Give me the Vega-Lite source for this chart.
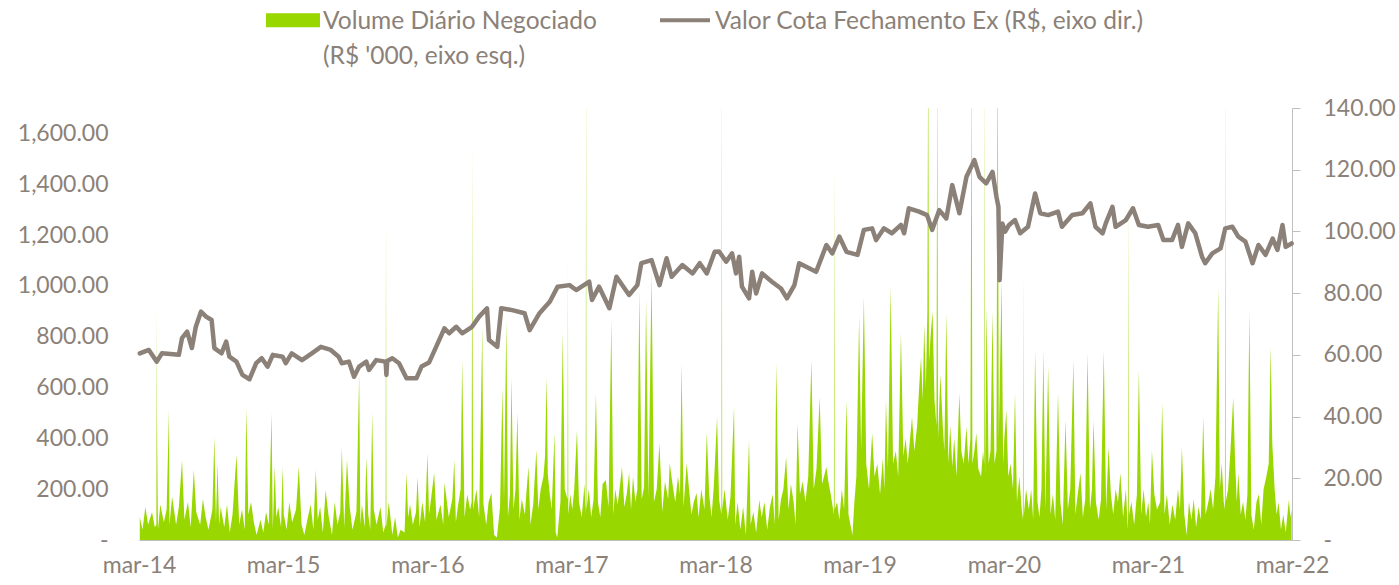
{
  "$schema": "https://vega.github.io/schema/vega-lite/v6.json",
  "width": 1153,
  "height": 432,
  "autosize": {"type": "none"},
  "padding": {"left": 139, "top": 108, "right": 107, "bottom": 45},
  "background": "white",
  "config": {"view": {"stroke": null}, "font": "Lato", "axis": {"labelFont": "Lato", "labelColor": "#8B8178", "labelFontSize": 23, "grid": false}},
  "datasets": {
    "vol": [
{"d":"2014-03-03","v":90},{"d":"2014-03-10","v":40},{"d":"2014-03-17","v":130},{"d":"2014-03-24","v":60},
{"d":"2014-04-03","v":110},{"d":"2014-04-10","v":50},{"d":"2014-04-14","v":60},{"d":"2014-04-15","v":920},{"d":"2014-04-16","v":80},{"d":"2014-04-17","v":485},{"d":"2014-04-18","v":40},{"d":"2014-04-24","v":140},
{"d":"2014-05-03","v":70},{"d":"2014-05-10","v":120},{"d":"2014-05-16","v":512},{"d":"2014-05-17","v":60},{"d":"2014-05-24","v":170},
{"d":"2014-06-03","v":60},{"d":"2014-06-10","v":130},{"d":"2014-06-18","v":315},{"d":"2014-06-24","v":80},
{"d":"2014-07-03","v":150},{"d":"2014-07-10","v":50},{"d":"2014-07-18","v":275},{"d":"2014-07-24","v":110},
{"d":"2014-08-03","v":60},{"d":"2014-08-10","v":160},{"d":"2014-08-17","v":90},{"d":"2014-08-24","v":40},
{"d":"2014-09-03","v":120},{"d":"2014-09-08","v":405},{"d":"2014-09-12","v":70},{"d":"2014-09-16","v":303},{"d":"2014-09-20","v":60},{"d":"2014-09-24","v":130},
{"d":"2014-10-03","v":50},{"d":"2014-10-10","v":140},{"d":"2014-10-17","v":30},{"d":"2014-10-24","v":100},
{"d":"2014-11-03","v":335},{"d":"2014-11-10","v":60},{"d":"2014-11-17","v":120},{"d":"2014-11-24","v":40},{"d":"2014-11-28","v":520},
{"d":"2014-12-03","v":100},{"d":"2014-12-10","v":150},{"d":"2014-12-17","v":70},{"d":"2014-12-24","v":20},
{"d":"2015-01-03","v":80},{"d":"2015-01-10","v":30},{"d":"2015-01-17","v":110},{"d":"2015-01-24","v":60},{"d":"2015-01-31","v":500},
{"d":"2015-02-03","v":40},{"d":"2015-02-08","v":288},{"d":"2015-02-12","v":90},{"d":"2015-02-17","v":130},{"d":"2015-02-24","v":50},{"d":"2015-02-28","v":288},
{"d":"2015-03-03","v":100},{"d":"2015-03-10","v":40},{"d":"2015-03-17","v":150},{"d":"2015-03-24","v":70},
{"d":"2015-04-03","v":120},{"d":"2015-04-10","v":288},{"d":"2015-04-17","v":60},{"d":"2015-04-24","v":20},
{"d":"2015-05-03","v":90},{"d":"2015-05-10","v":140},{"d":"2015-05-17","v":40},{"d":"2015-05-23","v":275},{"d":"2015-05-28","v":80},
{"d":"2015-06-03","v":130},{"d":"2015-06-10","v":30},{"d":"2015-06-17","v":197},{"d":"2015-06-24","v":100},
{"d":"2015-07-03","v":20},{"d":"2015-07-10","v":150},{"d":"2015-07-17","v":60},{"d":"2015-07-24","v":110},{"d":"2015-07-28","v":366},
{"d":"2015-08-03","v":50},{"d":"2015-08-10","v":315},{"d":"2015-08-17","v":130},{"d":"2015-08-24","v":40},
{"d":"2015-09-03","v":110},{"d":"2015-09-10","v":657},{"d":"2015-09-13","v":60},{"d":"2015-09-17","v":140},{"d":"2015-09-24","v":50},{"d":"2015-09-28","v":327},
{"d":"2015-10-03","v":100},{"d":"2015-10-08","v":40},{"d":"2015-10-13","v":500},{"d":"2015-10-17","v":120},{"d":"2015-10-24","v":60},
{"d":"2015-11-03","v":130},{"d":"2015-11-10","v":30},{"d":"2015-11-16","v":60},{"d":"2015-11-17","v":1272},{"d":"2015-11-18","v":50},{"d":"2015-11-24","v":150},
{"d":"2015-12-03","v":20},{"d":"2015-12-10","v":90},{"d":"2015-12-17","v":10},{"d":"2015-12-24","v":40},
{"d":"2016-01-03","v":30},{"d":"2016-01-08","v":264},{"d":"2016-01-12","v":90},{"d":"2016-01-17","v":140},{"d":"2016-01-24","v":60},
{"d":"2016-02-01","v":110},{"d":"2016-02-05","v":248},{"d":"2016-02-10","v":50},{"d":"2016-02-17","v":150},{"d":"2016-02-24","v":70},
{"d":"2016-03-01","v":342},{"d":"2016-03-05","v":100},{"d":"2016-03-10","v":160},{"d":"2016-03-18","v":264},{"d":"2016-03-24","v":80},
{"d":"2016-04-03","v":140},{"d":"2016-04-10","v":60},{"d":"2016-04-13","v":224},{"d":"2016-04-17","v":180},{"d":"2016-04-24","v":90},
{"d":"2016-05-03","v":160},{"d":"2016-05-08","v":315},{"d":"2016-05-12","v":70},{"d":"2016-05-17","v":130},{"d":"2016-05-24","v":200},{"d":"2016-05-28","v":708},
{"d":"2016-06-03","v":90},{"d":"2016-06-10","v":180},{"d":"2016-06-17","v":120},{"d":"2016-06-21","v":150},{"d":"2016-06-22","v":1043},{"d":"2016-06-23","v":300},{"d":"2016-06-24","v":1574},{"d":"2016-06-25","v":120},
{"d":"2016-07-03","v":200},{"d":"2016-07-10","v":90},{"d":"2016-07-18","v":838},{"d":"2016-07-21","v":140},{"d":"2016-07-28","v":60},
{"d":"2016-08-03","v":150},{"d":"2016-08-10","v":185},{"d":"2016-08-17","v":20},{"d":"2016-08-24","v":10},
{"d":"2016-09-01","v":130},{"d":"2016-09-07","v":602},{"d":"2016-09-11","v":150},{"d":"2016-09-17","v":866},{"d":"2016-09-21","v":90},{"d":"2016-09-26","v":180},{"d":"2016-09-30","v":642},
{"d":"2016-10-05","v":120},{"d":"2016-10-10","v":200},{"d":"2016-10-15","v":500},{"d":"2016-10-20","v":80},{"d":"2016-10-26","v":160},
{"d":"2016-11-03","v":100},{"d":"2016-11-07","v":190},{"d":"2016-11-12","v":288},{"d":"2016-11-17","v":60},{"d":"2016-11-24","v":140},
{"d":"2016-12-02","v":354},{"d":"2016-12-07","v":120},{"d":"2016-12-13","v":200},{"d":"2016-12-20","v":250},{"d":"2016-12-24","v":330},{"d":"2016-12-28","v":642},{"d":"2016-12-31","v":260},
{"d":"2017-01-05","v":180},{"d":"2017-01-10","v":120},{"d":"2017-01-17","v":421},{"d":"2017-01-20","v":30},{"d":"2017-01-24","v":10},
{"d":"2017-02-01","v":150},{"d":"2017-02-07","v":815},{"d":"2017-02-12","v":200},{"d":"2017-02-19","v":160},{"d":"2017-02-20","v":1102},{"d":"2017-02-21","v":100},{"d":"2017-02-26","v":180},
{"d":"2017-03-03","v":120},{"d":"2017-03-08","v":200},{"d":"2017-03-15","v":433},{"d":"2017-03-20","v":150},{"d":"2017-03-27","v":90},
{"d":"2017-04-03","v":220},{"d":"2017-04-06","v":100},{"d":"2017-04-07","v":1900},{"d":"2017-04-08","v":120},{"d":"2017-04-14","v":200},{"d":"2017-04-20","v":90},{"d":"2017-04-26","v":160},
{"d":"2017-05-02","v":578},{"d":"2017-05-07","v":150},{"d":"2017-05-13","v":90},{"d":"2017-05-19","v":220},{"d":"2017-05-27","v":236},
{"d":"2017-06-03","v":130},{"d":"2017-06-10","v":866},{"d":"2017-06-15","v":100},{"d":"2017-06-20","v":200},{"d":"2017-06-26","v":140},
{"d":"2017-07-03","v":230},{"d":"2017-07-07","v":288},{"d":"2017-07-13","v":130},{"d":"2017-07-19","v":180},{"d":"2017-07-25","v":264},{"d":"2017-07-30","v":120},
{"d":"2017-08-04","v":250},{"d":"2017-08-10","v":150},{"d":"2017-08-15","v":200},{"d":"2017-08-20","v":984},{"d":"2017-08-26","v":160},
{"d":"2017-09-01","v":210},{"d":"2017-09-06","v":944},{"d":"2017-09-12","v":170},{"d":"2017-09-20","v":1050},{"d":"2017-09-26","v":150},
{"d":"2017-10-03","v":200},{"d":"2017-10-10","v":382},{"d":"2017-10-17","v":110},{"d":"2017-10-24","v":230},
{"d":"2017-11-01","v":160},{"d":"2017-11-05","v":303},{"d":"2017-11-12","v":220},{"d":"2017-11-19","v":150},{"d":"2017-11-26","v":250},
{"d":"2017-12-01","v":180},{"d":"2017-12-05","v":697},{"d":"2017-12-10","v":130},{"d":"2017-12-18","v":303},{"d":"2017-12-24","v":200},{"d":"2017-12-30","v":100},
{"d":"2018-01-05","v":150},{"d":"2018-01-12","v":185},{"d":"2018-01-17","v":90},{"d":"2018-01-24","v":200},
{"d":"2018-02-01","v":120},{"d":"2018-02-07","v":421},{"d":"2018-02-13","v":180},{"d":"2018-02-19","v":90},{"d":"2018-02-25","v":220},
{"d":"2018-03-05","v":484},{"d":"2018-03-10","v":160},{"d":"2018-03-16","v":100},{"d":"2018-03-17","v":1900},{"d":"2018-03-18","v":120},{"d":"2018-03-24","v":200},
{"d":"2018-04-01","v":80},{"d":"2018-04-08","v":170},{"d":"2018-04-17","v":524},{"d":"2018-04-20","v":60},{"d":"2018-04-26","v":150},
{"d":"2018-05-03","v":40},{"d":"2018-05-10","v":130},{"d":"2018-05-17","v":20},{"d":"2018-05-25","v":394},{"d":"2018-05-29","v":60},
{"d":"2018-06-05","v":110},{"d":"2018-06-12","v":30},{"d":"2018-06-20","v":157},{"d":"2018-06-26","v":90},
{"d":"2018-07-03","v":150},{"d":"2018-07-10","v":40},{"d":"2018-07-17","v":130},{"d":"2018-07-24","v":180},{"d":"2018-07-29","v":60},
{"d":"2018-08-02","v":697},{"d":"2018-08-08","v":80},{"d":"2018-08-14","v":160},{"d":"2018-08-20","v":200},{"d":"2018-08-27","v":327},
{"d":"2018-09-02","v":120},{"d":"2018-09-08","v":220},{"d":"2018-09-15","v":150},{"d":"2018-09-20","v":60},{"d":"2018-09-25","v":460},
{"d":"2018-10-01","v":180},{"d":"2018-10-08","v":230},{"d":"2018-10-15","v":150},{"d":"2018-10-22","v":250},{"d":"2018-10-30","v":708},
{"d":"2018-11-05","v":200},{"d":"2018-11-12","v":280},{"d":"2018-11-20","v":563},{"d":"2018-11-26","v":220},
{"d":"2018-12-01","v":250},{"d":"2018-12-07","v":288},{"d":"2018-12-12","v":230},{"d":"2018-12-18","v":180},{"d":"2018-12-26","v":100},{"d":"2018-12-27","v":1495},{"d":"2018-12-28","v":120},
{"d":"2019-01-03","v":150},{"d":"2019-01-09","v":80},{"d":"2019-01-15","v":200},{"d":"2019-01-21","v":120},{"d":"2019-01-27","v":551},
{"d":"2019-02-01","v":100},{"d":"2019-02-06","v":60},{"d":"2019-02-11","v":20},{"d":"2019-02-16","v":150},{"d":"2019-02-21","v":250},{"d":"2019-02-28","v":878},
{"d":"2019-03-05","v":350},{"d":"2019-03-12","v":956},{"d":"2019-03-14","v":755},{"d":"2019-03-18","v":300},{"d":"2019-03-25","v":200},
{"d":"2019-04-02","v":421},{"d":"2019-04-08","v":250},{"d":"2019-04-15","v":300},{"d":"2019-04-22","v":180},{"d":"2019-04-29","v":320},
{"d":"2019-05-03","v":200},{"d":"2019-05-07","v":551},{"d":"2019-05-12","v":280},{"d":"2019-05-19","v":996},{"d":"2019-05-25","v":300},
{"d":"2019-06-01","v":350},{"d":"2019-06-07","v":250},{"d":"2019-06-14","v":815},{"d":"2019-06-20","v":330},{"d":"2019-06-26","v":400},
{"d":"2019-07-01","v":300},{"d":"2019-07-06","v":380},{"d":"2019-07-12","v":484},{"d":"2019-07-18","v":350},{"d":"2019-07-25","v":450},{"d":"2019-07-30","v":600},
{"d":"2019-08-04","v":720},{"d":"2019-08-08","v":550},{"d":"2019-08-12","v":850},{"d":"2019-08-16","v":600},{"d":"2019-08-20","v":900},{"d":"2019-08-22","v":2000},{"d":"2019-08-24","v":700},{"d":"2019-08-28","v":800},
{"d":"2019-09-02","v":900},{"d":"2019-09-07","v":550},{"d":"2019-09-12","v":450},{"d":"2019-09-14","v":1900},{"d":"2019-09-16","v":400},{"d":"2019-09-22","v":650},{"d":"2019-09-28","v":450},
{"d":"2019-10-02","v":350},{"d":"2019-10-07","v":893},{"d":"2019-10-12","v":300},{"d":"2019-10-17","v":450},{"d":"2019-10-22","v":288},{"d":"2019-10-27","v":400},
{"d":"2019-11-02","v":250},{"d":"2019-11-09","v":578},{"d":"2019-11-14","v":350},{"d":"2019-11-20","v":300},{"d":"2019-11-27","v":445},
{"d":"2019-12-02","v":300},{"d":"2019-12-07","v":400},{"d":"2019-12-10","v":1900},{"d":"2019-12-12","v":300},{"d":"2019-12-17","v":350},{"d":"2019-12-22","v":421},{"d":"2019-12-27","v":280},
{"d":"2020-01-03","v":250},{"d":"2020-01-08","v":350},{"d":"2020-01-11","v":300},{"d":"2020-01-12","v":1900},{"d":"2020-01-13","v":250},{"d":"2020-01-17","v":917},{"d":"2020-01-22","v":300},{"d":"2020-01-27","v":350},
{"d":"2020-02-01","v":900},{"d":"2020-02-06","v":300},{"d":"2020-02-11","v":350},{"d":"2020-02-14","v":2000},{"d":"2020-02-17","v":400},{"d":"2020-02-24","v":1023},{"d":"2020-02-28","v":300},
{"d":"2020-03-02","v":400},{"d":"2020-03-07","v":512},{"d":"2020-03-12","v":250},{"d":"2020-03-18","v":300},{"d":"2020-03-24","v":200},{"d":"2020-03-29","v":578},
{"d":"2020-04-03","v":150},{"d":"2020-04-09","v":250},{"d":"2020-04-15","v":120},{"d":"2020-04-18","v":80},{"d":"2020-04-19","v":1062},{"d":"2020-04-20","v":90},{"d":"2020-04-26","v":200},
{"d":"2020-05-03","v":120},{"d":"2020-05-09","v":200},{"d":"2020-05-14","v":80},{"d":"2020-05-19","v":748},{"d":"2020-05-25","v":150},{"d":"2020-05-30","v":90},
{"d":"2020-06-04","v":200},{"d":"2020-06-09","v":748},{"d":"2020-06-14","v":120},{"d":"2020-06-21","v":682},{"d":"2020-06-27","v":100},
{"d":"2020-07-03","v":180},{"d":"2020-07-09","v":80},{"d":"2020-07-16","v":578},{"d":"2020-07-22","v":150},{"d":"2020-07-28","v":60},
{"d":"2020-08-04","v":472},{"d":"2020-08-10","v":120},{"d":"2020-08-16","v":200},{"d":"2020-08-24","v":708},{"d":"2020-08-29","v":100},
{"d":"2020-09-04","v":180},{"d":"2020-09-11","v":264},{"d":"2020-09-17","v":90},{"d":"2020-09-23","v":160},{"d":"2020-09-29","v":736},
{"d":"2020-10-05","v":120},{"d":"2020-10-10","v":200},{"d":"2020-10-14","v":472},{"d":"2020-10-20","v":150},{"d":"2020-10-27","v":80},
{"d":"2020-11-02","v":160},{"d":"2020-11-09","v":748},{"d":"2020-11-15","v":120},{"d":"2020-11-21","v":366},{"d":"2020-11-27","v":180},
{"d":"2020-12-03","v":100},{"d":"2020-12-09","v":200},{"d":"2020-12-15","v":150},{"d":"2020-12-21","v":264},{"d":"2020-12-28","v":90},
{"d":"2021-01-04","v":200},{"d":"2021-01-09","v":40},{"d":"2021-01-10","v":120},{"d":"2021-01-11","v":1365},{"d":"2021-01-12","v":100},{"d":"2021-01-18","v":150},{"d":"2021-01-25","v":60},
{"d":"2021-02-01","v":180},{"d":"2021-02-06","v":669},{"d":"2021-02-12","v":100},{"d":"2021-02-18","v":200},{"d":"2021-02-24","v":90},
{"d":"2021-03-02","v":150},{"d":"2021-03-06","v":60},{"d":"2021-03-11","v":354},{"d":"2021-03-17","v":180},{"d":"2021-03-24","v":120},
{"d":"2021-04-01","v":150},{"d":"2021-04-06","v":539},{"d":"2021-04-12","v":100},{"d":"2021-04-18","v":180},{"d":"2021-04-25","v":60},
{"d":"2021-05-02","v":140},{"d":"2021-05-09","v":80},{"d":"2021-05-16","v":200},{"d":"2021-05-21","v":120},{"d":"2021-05-26","v":366},
{"d":"2021-06-01","v":100},{"d":"2021-06-07","v":20},{"d":"2021-06-13","v":150},{"d":"2021-06-19","v":80},{"d":"2021-06-25","v":160},
{"d":"2021-07-01","v":50},{"d":"2021-07-07","v":130},{"d":"2021-07-13","v":80},{"d":"2021-07-19","v":484},{"d":"2021-07-25","v":100},
{"d":"2021-08-01","v":150},{"d":"2021-08-07","v":200},{"d":"2021-08-13","v":120},{"d":"2021-08-19","v":250},{"d":"2021-08-26","v":992},{"d":"2021-08-30","v":200},
{"d":"2021-09-04","v":300},{"d":"2021-09-09","v":150},{"d":"2021-09-12","v":120},{"d":"2021-09-13","v":1900},{"d":"2021-09-14","v":150},{"d":"2021-09-20","v":200},{"d":"2021-09-26","v":350},
{"d":"2021-10-03","v":563},{"d":"2021-10-08","v":300},{"d":"2021-10-12","v":150},{"d":"2021-10-16","v":264},{"d":"2021-10-22","v":100},{"d":"2021-10-28","v":150},
{"d":"2021-11-03","v":80},{"d":"2021-11-08","v":180},{"d":"2021-11-13","v":905},{"d":"2021-11-18","v":100},{"d":"2021-11-24","v":40},
{"d":"2021-12-01","v":150},{"d":"2021-12-07","v":180},{"d":"2021-12-13","v":60},{"d":"2021-12-19","v":200},{"d":"2021-12-26","v":250},
{"d":"2022-01-01","v":300},{"d":"2022-01-06","v":760},{"d":"2022-01-10","v":382},{"d":"2022-01-16","v":200},{"d":"2022-01-21","v":100},{"d":"2022-01-26","v":150},
{"d":"2022-02-01","v":40},{"d":"2022-02-07","v":100},{"d":"2022-02-13","v":30},{"d":"2022-02-21","v":157},{"d":"2022-02-25","v":90},{"d":"2022-02-28","v":120}
    ],
    "px": [
{"d":"2014-03-03","p":60.5},{"d":"2014-03-26","p":61.6},{"d":"2014-04-15","p":57.8},{"d":"2014-04-28","p":60.5},{"d":"2014-06-10","p":60},{"d":"2014-06-18","p":65.4},{"d":"2014-07-01","p":67.5},{"d":"2014-07-13","p":62.2},{"d":"2014-07-23","p":69.1},{"d":"2014-08-05","p":74},{"d":"2014-08-18","p":72.4},{"d":"2014-09-01","p":71.3},{"d":"2014-09-08","p":62.2},{"d":"2014-09-26","p":60.5},{"d":"2014-10-08","p":64.3},{"d":"2014-10-16","p":59.4},{"d":"2014-11-03","p":57.8},{"d":"2014-11-18","p":53.5},{"d":"2014-12-06","p":52.1},{"d":"2014-12-23","p":57.3},
{"d":"2015-01-06","p":58.9},{"d":"2015-01-21","p":56.2},{"d":"2015-02-03","p":60},{"d":"2015-02-28","p":59.4},{"d":"2015-03-08","p":57.3},{"d":"2015-03-23","p":60.5},{"d":"2015-04-18","p":58.3},{"d":"2015-05-13","p":60.5},{"d":"2015-06-05","p":62.6},{"d":"2015-06-30","p":61.6},{"d":"2015-07-20","p":59.4},{"d":"2015-07-28","p":57.3},{"d":"2015-08-15","p":57.8},{"d":"2015-08-28","p":52.9},{"d":"2015-09-10","p":56.2},{"d":"2015-09-28","p":57.8},{"d":"2015-10-05","p":55.1},{"d":"2015-10-23","p":58.3},{"d":"2015-11-16","p":57.8},{"d":"2015-11-18","p":53.5},{"d":"2015-11-20","p":58},{"d":"2015-12-03","p":58.9},{"d":"2015-12-20","p":57.3},
{"d":"2016-01-08","p":52.4},{"d":"2016-02-02","p":52.4},{"d":"2016-02-15","p":56.2},{"d":"2016-03-05","p":57.5},{"d":"2016-03-23","p":62.6},{"d":"2016-04-13","p":68.6},{"d":"2016-04-25","p":67},{"d":"2016-05-13","p":69.1},{"d":"2016-05-28","p":67},{"d":"2016-06-22","p":69.1},{"d":"2016-07-10","p":72.4},{"d":"2016-07-30","p":75.1},{"d":"2016-08-04","p":64.8},{"d":"2016-08-25","p":62.6},{"d":"2016-09-04","p":75.1},{"d":"2016-10-02","p":74.5},{"d":"2016-11-02","p":73.5},{"d":"2016-11-15","p":68},{"d":"2016-12-10","p":73.5},
{"d":"2017-01-05","p":77.2},{"d":"2017-01-25","p":82.1},{"d":"2017-02-24","p":82.6},{"d":"2017-03-13","p":81},{"d":"2017-04-15","p":83.7},{"d":"2017-04-22","p":77.8},{"d":"2017-05-10","p":82.1},{"d":"2017-06-05","p":75.1},{"d":"2017-06-23","p":85.3},{"d":"2017-07-25","p":79.4},{"d":"2017-08-15","p":82.6},{"d":"2017-08-25","p":89.7},{"d":"2017-09-20","p":90.7},{"d":"2017-10-10","p":82.6},{"d":"2017-10-28","p":91.3},{"d":"2017-11-10","p":85.3},{"d":"2017-12-07","p":89.1},
{"d":"2018-01-02","p":86.4},{"d":"2018-01-20","p":89.7},{"d":"2018-02-07","p":86.4},{"d":"2018-02-27","p":93.4},{"d":"2018-03-10","p":93.5},{"d":"2018-03-28","p":90.2},{"d":"2018-04-12","p":92.9},{"d":"2018-04-22","p":86.4},{"d":"2018-04-30","p":91.8},{"d":"2018-05-07","p":82.1},{"d":"2018-05-25","p":78.3},{"d":"2018-06-02","p":86.9},{"d":"2018-06-12","p":79.9},{"d":"2018-06-27","p":86.4},{"d":"2018-07-22","p":83.7},{"d":"2018-08-14","p":81.5},{"d":"2018-08-29","p":78.3},{"d":"2018-09-17","p":82.6},{"d":"2018-09-29","p":89.7},{"d":"2018-11-11","p":86.9},{"d":"2018-12-07","p":95.6},{"d":"2018-12-22","p":92.9},
{"d":"2019-01-09","p":98.3},{"d":"2019-01-27","p":93.4},{"d":"2019-02-24","p":92.4},{"d":"2019-03-12","p":100.5},{"d":"2019-04-02","p":101},{"d":"2019-04-12","p":97.2},{"d":"2019-05-02","p":101},{"d":"2019-05-22","p":99.4},{"d":"2019-06-14","p":102.1},{"d":"2019-06-22","p":99.4},{"d":"2019-07-04","p":107.5},{"d":"2019-07-30","p":106.4},{"d":"2019-08-19","p":105.3},{"d":"2019-09-01","p":100.5},{"d":"2019-09-19","p":106.9},{"d":"2019-10-07","p":104.2},{"d":"2019-10-22","p":115},{"d":"2019-11-09","p":105.9},{"d":"2019-11-27","p":117.7},{"d":"2019-12-17","p":123.1},{"d":"2019-12-30","p":117.7},
{"d":"2020-01-16","p":115.6},{"d":"2020-02-01","p":119.3},{"d":"2020-02-11","p":111.2},{"d":"2020-02-16","p":108},{"d":"2020-02-19","p":84.2},{"d":"2020-02-26","p":102.6},{"d":"2020-03-04","p":99.9},{"d":"2020-03-14","p":102.1},{"d":"2020-03-29","p":103.7},{"d":"2020-04-11","p":99.4},{"d":"2020-05-01","p":101.5},{"d":"2020-05-19","p":112.3},{"d":"2020-06-01","p":105.9},{"d":"2020-06-21","p":105.3},{"d":"2020-07-16","p":106.4},{"d":"2020-07-26","p":101.5},{"d":"2020-08-21","p":105.3},{"d":"2020-09-16","p":105.9},{"d":"2020-10-06","p":109.1},{"d":"2020-10-19","p":101.5},{"d":"2020-11-06","p":99.4},{"d":"2020-11-14","p":102.6},{"d":"2020-12-01","p":108},{"d":"2020-12-09","p":101.5},
{"d":"2021-01-04","p":103.7},{"d":"2021-01-22","p":107.5},{"d":"2021-02-06","p":102.1},{"d":"2021-03-01","p":101.5},{"d":"2021-03-27","p":102.1},{"d":"2021-04-09","p":97.2},{"d":"2021-05-01","p":97.2},{"d":"2021-05-16","p":102.1},{"d":"2021-05-26","p":95},{"d":"2021-06-11","p":102.6},{"d":"2021-06-29","p":99.4},{"d":"2021-07-16","p":91.8},{"d":"2021-07-24","p":89.7},{"d":"2021-08-11","p":92.9},{"d":"2021-09-01","p":94.5},{"d":"2021-09-13","p":101},{"d":"2021-10-01","p":101.5},{"d":"2021-10-16","p":98.3},{"d":"2021-11-03","p":96.7},{"d":"2021-11-21","p":89.7},{"d":"2021-12-06","p":95.6},{"d":"2021-12-24","p":92.4},
{"d":"2022-01-11","p":97.7},{"d":"2022-01-23","p":94},{"d":"2022-02-05","p":102.1},{"d":"2022-02-13","p":95},{"d":"2022-02-28","p":96.1}
    ]
  },
  "encoding": {
    "x": {
      "field": "d", "type": "temporal",
      "scale": {"type": "utc", "domain": [{"year": 2014, "month": 3, "date": 1, "utc": true}, {"year": 2022, "month": 3, "date": 1, "utc": true}]},
      "axis": {
        "title": null, "grid": false, "ticks": false, "tickSize": 0,
        "domainColor": "#BFBFBF", "domainWidth": 1,
        "labelPadding": 14, "labelFlush": false, "labelOverlap": false, "labelBound": false,
        "values": [
          {"year": 2014, "month": 3, "date": 1, "utc": true},
          {"year": 2015, "month": 3, "date": 1, "utc": true},
          {"year": 2016, "month": 3, "date": 1, "utc": true},
          {"year": 2017, "month": 3, "date": 1, "utc": true},
          {"year": 2018, "month": 3, "date": 1, "utc": true},
          {"year": 2019, "month": 3, "date": 1, "utc": true},
          {"year": 2020, "month": 3, "date": 1, "utc": true},
          {"year": 2021, "month": 3, "date": 1, "utc": true},
          {"year": 2022, "month": 3, "date": 1, "utc": true}
        ],
        "labelExpr": "lower(utcFormat(datum.value, '%b-%y'))"
      }
    }
  },
  "layer": [
    {
      "data": {"name": "vol"},
      "mark": {"type": "area", "clip": true, "color": "#99D700", "interpolate": "linear"},
      "encoding": {
        "y": {
          "field": "v", "type": "quantitative",
          "scale": {"domain": [0, 1700], "nice": false, "zero": true},
          "axis": {
            "orient": "left", "title": null, "grid": false, "domain": false, "ticks": false, "tickSize": 0,
            "labelPadding": 31,
            "values": [0, 200, 400, 600, 800, 1000, 1200, 1400, 1600],
            "labelExpr": "datum.value == 0 ? '-' : format(datum.value, ',.2f')",
            "encode": {"labels": {"update": {"dx": {"signal": "datum.value == 0 ? -11 : 0"}}}}
          }
        },
        "color": {
          "datum": "Volume Diário Negociado",
          "scale": {"domain": ["Volume Diário Negociado", "Valor Cota Fechamento Ex (R$, eixo dir.)"], "range": ["#99D700", "#8B8178"]},
          "legend": {
            "orient": "none", "legendX": 127, "legendY": -115,
            "direction": "horizontal", "columns": 2, "title": null,
            "symbolSize": 2500, "labelOffset": 3, "columnPadding": 55, "padding": 0, "rowPadding": 0,
            "labelFont": "Lato", "labelFontSize": 24.5, "labelColor": "#8B8178", "labelLimit": 700,
            "labelBaseline": "alphabetic",
            "labelExpr": "datum.label == 'Volume Diário Negociado' ? ['Volume Diário Negociado', \"(R$ '000, eixo esq.)\"] : [datum.label, ' ']",
            "encode": {
              "symbols": {"update": {
                "shape": {"signal": "datum.value == 'Volume Diário Negociado' ? 'M-1,-0.2H1V0.2H-1Z' : 'stroke'"},
                "fill": {"signal": "datum.value == 'Volume Diário Negociado' ? '#99D700' : 'transparent'"},
                "stroke": {"signal": "datum.value == 'Volume Diário Negociado' ? 'transparent' : '#8B8178'"},
                "strokeWidth": {"value": 4},
                "opacity": {"value": 1}
              }},
              "labels": {"update": {"dy": {"value": 9}, "lineHeight": {"value": 35}}}
            }
          }
        }
      }
    },
    {
      "data": {"name": "px"},
      "mark": {"type": "line", "strokeWidth": 4.5, "strokeJoin": "round", "strokeCap": "round"},
      "encoding": {
        "y": {
          "field": "p", "type": "quantitative",
          "scale": {"domain": [0, 140], "nice": false},
          "axis": {
            "orient": "right", "title": null, "grid": false,
            "domainColor": "#BFBFBF", "tickColor": "#BFBFBF", "tickSize": 8, "labelPadding": 23,
            "values": [0, 20, 40, 60, 80, 100, 120, 140],
            "labelExpr": "datum.value == 0 ? '-' : format(datum.value, '.2f')"
          }
        },
        "color": {"datum": "Valor Cota Fechamento Ex (R$, eixo dir.)"}
      }
    }
  ],
  "resolve": {"scale": {"y": "independent"}}
}
